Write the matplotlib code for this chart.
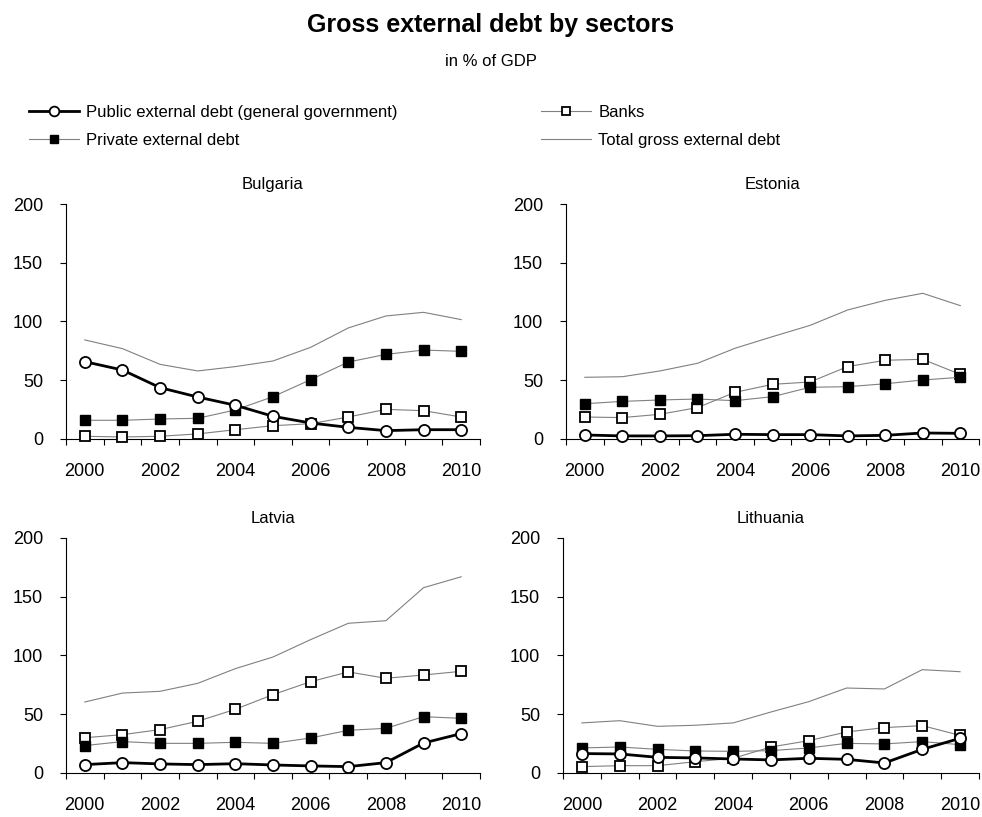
import numpy as np
import matplotlib.pyplot as plt
from matplotlib.lines import Line2D

plt.rcParams['font.family'] = ['Liberation Sans', 'DejaVu Sans']

years = [2000, 2001, 2002, 2003, 2004, 2005, 2006, 2007, 2008, 2009, 2010]
countries = ['Bulgaria', 'Estonia', 'Latvia', 'Lithuania']

public = {
    'Bulgaria': [65.8, 58.7, 43.7, 35.7, 28.7, 19.3, 13.6, 9.9, 7.1, 7.9, 7.9],
    'Estonia': [3.4, 2.6, 2.6, 2.8, 4.0, 3.7, 3.7, 2.6, 3.1, 5.1, 4.8],
    'Latvia': [7.1, 8.8, 7.7, 7.1, 7.9, 6.8, 6.0, 5.4, 8.8, 25.5, 33.5],
    'Lithuania': [16.5, 16.2, 13.3, 12.8, 11.9, 11.1, 12.5, 11.6, 8.5, 20.1, 29.5],
}
private = {
    'Bulgaria': [15.9, 15.9, 17.0, 17.6, 24.7, 36.0, 50.5, 65.5, 72.0, 75.7, 74.6],
    'Estonia': [30.0, 32.0, 33.2, 34.0, 32.6, 36.0, 44.0, 44.5, 47.0, 50.2, 52.5],
    'Latvia': [23.3, 26.7, 25.2, 25.2, 26.1, 25.2, 29.8, 36.3, 38.0, 47.9, 46.5],
    'Lithuania': [21.3, 22.1, 20.1, 18.7, 18.4, 19.0, 21.3, 25.2, 24.7, 26.7, 24.1],
}
banks = {
    'Bulgaria': [2.3, 1.7, 2.3, 4.3, 7.9, 11.3, 13.0, 18.7, 25.2, 24.1, 18.7],
    'Estonia': [18.7, 18.2, 21.0, 26.7, 39.7, 46.5, 48.5, 61.6, 67.0, 67.8, 55.0],
    'Latvia': [30.0, 32.6, 36.9, 44.0, 54.2, 66.7, 77.7, 86.0, 80.6, 83.4, 86.5],
    'Lithuania': [5.4, 6.2, 6.2, 9.6, 12.5, 22.1, 27.5, 34.9, 38.6, 40.3, 32.0],
}
total = {
    'Bulgaria': [84.3, 76.9, 63.5, 57.9, 61.6, 66.4, 78.0, 94.5, 104.7, 107.8, 101.6],
    'Estonia': [52.5, 53.0, 57.9, 64.4, 77.2, 87.1, 96.7, 109.8, 118.0, 124.0, 113.5],
    'Latvia': [60.4, 68.0, 69.5, 76.3, 88.8, 98.7, 113.5, 127.4, 129.6, 157.7, 167.0],
    'Lithuania': [42.6, 44.5, 39.7, 40.6, 42.6, 51.9, 60.7, 72.3, 71.5, 87.9, 86.2],
}

fig = plt.figure(figsize=(9.82, 8.17), dpi=100)

# axes boxes in figure fractions (left, bottom, width, height)
boxes = {
    'Bulgaria': [0.0672, 0.4627, 0.4216, 0.2876],
    'Estonia': [0.5764, 0.4627, 0.4206, 0.2876],
    'Latvia': [0.0672, 0.0539, 0.4216, 0.2876],
    'Lithuania': [0.5733, 0.0539, 0.4236, 0.2876],
}

x = np.arange(len(years))
grey = '#808080'

for c in countries:
    ax = fig.add_axes(boxes[c])
    ax.plot(x, total[c], color=grey, lw=0.8, zorder=2, clip_on=False)
    ax.plot(x, banks[c], color=grey, lw=0.8, marker='s', ms=7,
            mfc='white', mec='black', mew=1.3, zorder=3, clip_on=False)
    ax.plot(x, private[c], color=grey, lw=0.8, marker='s', ms=7,
            mfc='black', mec='black', zorder=4, clip_on=False)
    ax.plot(x, public[c], color='black', lw=2, marker='o', ms=8,
            mfc='white', mec='black', mew=1.3, zorder=5, clip_on=False)

    ax.set_xlim(-0.5, len(years) - 0.5)
    ax.set_ylim(0, 200)
    ax.set_yticks([0, 50, 100, 150, 200])
    ax.set_xticks(x[::2])
    ax.set_xticklabels([str(y) for y in years[::2]])
    ax.set_xticks(np.arange(-0.5, len(years)), minor=True)
    ax.tick_params(axis='x', which='major', length=0, pad=17, labelsize=13)
    ax.tick_params(axis='x', which='minor', length=4.5, width=0.8, direction='out')
    ax.tick_params(axis='y', length=4.5, width=0.8, direction='out', labelsize=13, pad=12)
    for s in ['top', 'right']:
        ax.spines[s].set_visible(False)
    for s in ['left', 'bottom']:
        ax.spines[s].set_linewidth(0.8)
    ax.set_title(c, fontsize=12, pad=11)

fig.text(0.5, 0.970, 'Gross external debt by sectors', ha='center', va='center',
         fontsize=18, fontweight='bold')
fig.text(0.5, 0.925, 'in % of GDP', ha='center', va='center', fontsize=12)

handles = [
    Line2D([], [], color='black', lw=2, marker='o', ms=7, mfc='white', mec='black', mew=1.3),
    Line2D([], [], color=grey, lw=0.8, marker='s', ms=6, mfc='black', mec='black'),
    Line2D([], [], color=grey, lw=0.8, marker='s', ms=6, mfc='white', mec='black', mew=1.3),
    Line2D([], [], color=grey, lw=0.8),
]
labels = ['Public external debt (general government)', 'Private external debt',
          'Banks', 'Total gross external debt']
fig.legend(handles, labels, loc='upper left', bbox_to_anchor=(0.030, 0.872), ncol=2,
           frameon=False, fontsize=12, handlelength=3.0, handletextpad=0.42,
           columnspacing=8.6, labelspacing=0.8, borderaxespad=0, borderpad=0)

fig.savefig('out.png', dpi=100)
